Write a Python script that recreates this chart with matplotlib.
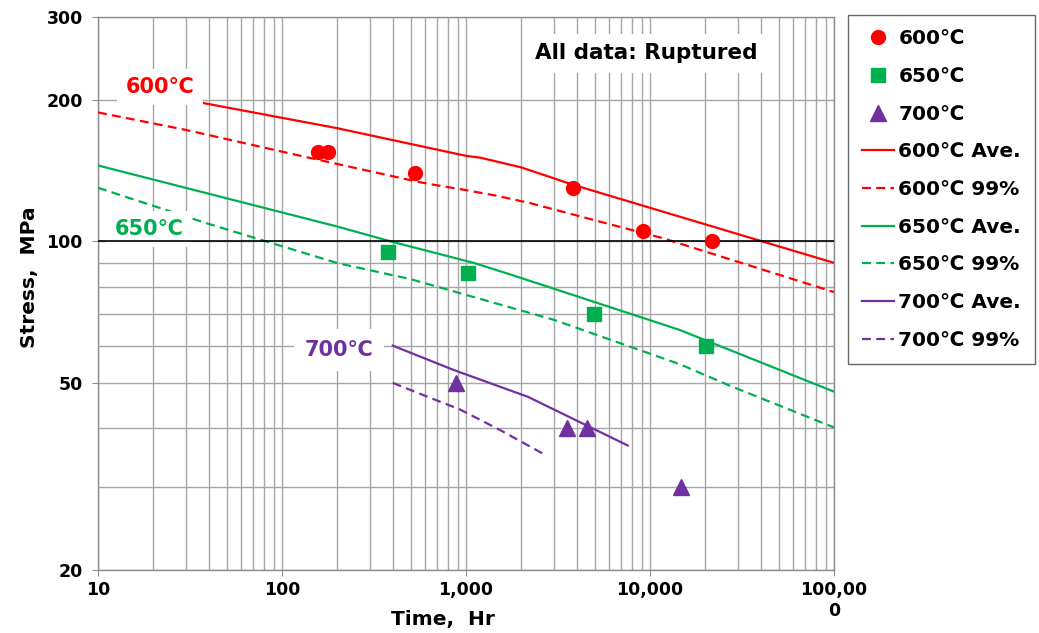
import matplotlib
matplotlib.use("Agg")
import matplotlib.pyplot as plt
from matplotlib.ticker import FixedLocator, FixedFormatter, NullFormatter
import numpy as np

plt.rcParams['font.family'] = ['DejaVu Sans']
plt.rcParams['font.weight'] = 'bold'

# measured rupture data (time hr, stress MPa)
t600 = [157, 178, 528, 3830, 9200, 21800]
s600 = [155, 155, 140, 130, 105, 100]
t650 = [375, 1030, 4970, 20100]
s650 = [95, 85.5, 70, 60]
t700 = [883, 3550, 4560, 14700]
s700 = [50, 40, 40, 30]

# average curves and 99% curves
t600_ave = [37, 200, 1000, 1200, 2000, 3800, 100000]
s600_ave = [197, 174, 152, 150.6, 143.6, 132, 90]
t600_99 = [10, 30, 136, 540, 640, 990, 1470, 2230, 5130, 11800, 100000]
s600_99 = [188, 172.6, 151, 134, 132.3, 128.6, 125, 120.6, 110.6, 101.5, 78]

t650_ave = [10, 200, 400, 1100, 1730, 14500, 100000]
s650_ave = [145, 107.5, 99.7, 90, 85.1, 64.8, 47.9]
t650_99 = [10, 38, 86, 200, 500, 3000, 14500, 27200, 100000]
s650_99 = [130, 109.6, 99.4, 89.9, 83.1, 68.1, 54.8, 49.3, 40.2]

t700_ave = [400, 853, 2170, 7570]
s700_ave = [60, 53.3, 46.7, 36.8]
t700_99 = [400, 562, 927, 1530, 2710]
s700_99 = [50, 47.4, 43.9, 39.7, 35.1]

xticks = [10, 100, 1000, 10000, 100000]
xlabels = ['10', '100', '1,000', '10,000', '100,00\n0']
yticks = [20, 50, 100, 200, 300]
ylabels = ['20', '50', '100', '200', '300']
yminor = [30, 40, 60, 70, 80, 90]

red = '#ff0000'
green = '#00b050'
purple = '#7030a0'

fig = plt.figure(figsize=(10.39, 6.33), dpi=100)
ax = fig.add_axes([98/1039, 1-570/633, 736/1039, 553/633])
ax.set_xscale('log')
ax.set_yscale('log')
ax.set_xlim(10, 100000)
ax.set_ylim(20, 300)

# grid
ax.xaxis.set_major_locator(FixedLocator(xticks))
ax.xaxis.set_major_formatter(FixedFormatter(xlabels))
xminor = [m * 10**d for d in range(1, 5) for m in range(2, 10)]
ax.xaxis.set_minor_locator(FixedLocator(xminor))
ax.xaxis.set_minor_formatter(NullFormatter())
ax.yaxis.set_major_locator(FixedLocator(yticks))
ax.yaxis.set_major_formatter(FixedFormatter(ylabels))
ax.yaxis.set_minor_locator(FixedLocator(yminor))
ax.yaxis.set_minor_formatter(NullFormatter())
ax.grid(True, which='both', color='#a6a6a6', lw=1.0)
ax.axhline(100, color='black', lw=1.2, zorder=4.5)
ax.set_axisbelow(True)
for sp in ax.spines.values():
    sp.set_color('#8c8c8c')
    sp.set_linewidth(1.0)
ax.tick_params(which='major', length=4, color='#8c8c8c', labelsize=12.5)
ax.tick_params(which='minor', length=0)
ax.tick_params(axis='y', pad=7)
ax.tick_params(axis='x', pad=4)

lw = 1.6
dash = (4, 2.4)
ax.plot(t600, s600, 'o', color=red, ms=10, label='600℃', zorder=5)
ax.plot(t650, s650, 's', color=green, ms=10, label='650℃', zorder=5)
ax.plot(t700, s700, '^', color=purple, ms=11, label='700℃', zorder=5)
ax.plot(t600_ave, s600_ave, '-', color=red, lw=lw, label='600℃ Ave.', zorder=3)
ax.plot(t600_99, s600_99, '--', color=red, lw=lw, dashes=dash, label='600℃ 99%', zorder=3)
ax.plot(t650_ave, s650_ave, '-', color=green, lw=lw, label='650℃ Ave.', zorder=3)
ax.plot(t650_99, s650_99, '--', color=green, lw=lw, dashes=dash, label='650℃ 99%', zorder=3)
ax.plot(t700_ave, s700_ave, '-', color=purple, lw=lw, label='700℃ Ave.', zorder=3)
ax.plot(t700_99, s700_99, '--', color=purple, lw=lw, dashes=dash, label='700℃ 99%', zorder=3)

box = dict(facecolor='white', edgecolor='none', pad=6)
ax.text(21.7, 213, '600℃', color=red, fontsize=15, fontweight='bold',
        ha='center', va='center', bbox=box, zorder=4)
ax.text(18.9, 106.3, '650℃', color=green, fontsize=15, fontweight='bold',
        ha='center', va='center', bbox=box, zorder=4)
ax.text(204, 58.8, '700℃', color=purple, fontsize=15, fontweight='bold',
        ha='center', va='center', bbox=dict(facecolor='white', edgecolor='none', pad=8), zorder=4)
ax.text(0.745, 0.934, 'All data: Ruptured', transform=ax.transAxes, color='black',
        fontsize=15.5, fontweight='bold', ha='center', va='center',
        bbox=dict(facecolor='white', edgecolor='none', pad=7), zorder=4)

ax.set_xlabel('Time,  Hr', fontsize=14.5, fontweight='bold')
ax.set_ylabel('Stress,  MPa', fontsize=14.5, fontweight='bold')
ax.xaxis.set_label_coords(0.469, -0.072)
ax.yaxis.set_label_coords(-0.08, 0.53)

leg = fig.legend(loc='upper left', bbox_to_anchor=(848/1039, 1-15/633),
                 prop={'size': 14.5, 'weight': 'bold'}, frameon=True, fancybox=False,
                 edgecolor='#404040', handlelength=1.6, handletextpad=0.2,
                 labelspacing=0.93, borderpad=0.7, borderaxespad=0)
leg.get_frame().set_linewidth(1.0)

fig.savefig('out.png', dpi=100)
